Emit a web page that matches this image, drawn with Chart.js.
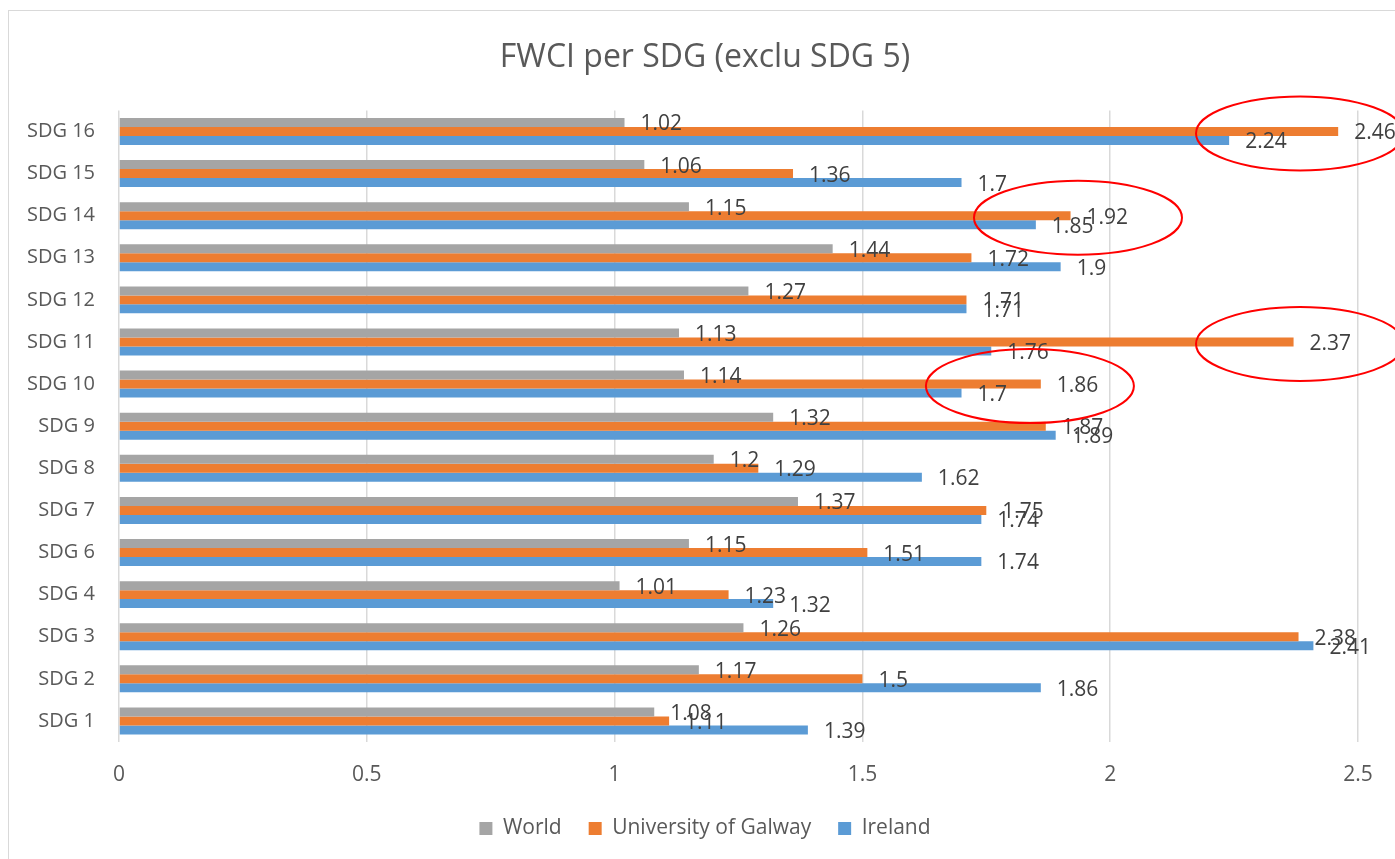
<!DOCTYPE html>
<html>
<head>
<meta charset="utf-8">
<title>FWCI per SDG</title>
<script src="https://cdn.jsdelivr.net/npm/chart.js@4.4.1/dist/chart.umd.min.js"></script>
<style>
  html, body { margin: 0; padding: 0; background: #fff; overflow: hidden; }
  #frame {
    position: absolute; left: 8px; top: 10px;
    width: 1392px; height: 860px;
    border-left: 1px solid #d9d9d9; border-top: 1px solid #d9d9d9;
  }
  canvas { display: block; }
</style>
</head>
<body>
<div id="frame"><canvas id="chart" width="1392" height="860"></canvas></div>
<script>
// chart data
const categories = ["SDG 16", "SDG 15", "SDG 14", "SDG 13", "SDG 12", "SDG 11", "SDG 10",
  "SDG 9", "SDG 8", "SDG 7", "SDG 6", "SDG 4", "SDG 3", "SDG 2", "SDG 1"];
const worldValues = [1.02, 1.06, 1.15, 1.44, 1.27, 1.13, 1.14, 1.32, 1.2, 1.37, 1.15, 1.01, 1.26, 1.17, 1.08];
const galwayValues = [2.46, 1.36, 1.92, 1.72, 1.71, 2.37, 1.86, 1.87, 1.29, 1.75, 1.51, 1.23, 2.38, 1.5, 1.11];
const irelandValues = [2.24, 1.7, 1.85, 1.9, 1.71, 1.76, 1.7, 1.89, 1.62, 1.74, 1.74, 1.32, 2.41, 1.86, 1.39];
const xTickValues = [0, 0.5, 1, 1.5, 2, 2.5];

// red rings drawn over the chart (category + x value of the ring centre)
const ringCategories = ["SDG 16", "SDG 14", "SDG 11", "SDG 10"];
const ringCentres = [2.383, 1.935, 2.383, 1.838];

const textFont = "'Open Sans', 'DejaVu Sans', sans-serif";

// value labels at the end of each bar
const barLabels = {
  id: "barLabels",
  afterDatasetsDraw(chart) {
    const ctx = chart.ctx;
    ctx.save();
    ctx.font = "21px " + textFont;
    ctx.fillStyle = "#404040";
    ctx.textAlign = "left";
    ctx.textBaseline = "middle";
    chart.data.datasets.forEach((ds, i) => {
      chart.getDatasetMeta(i).data.forEach((bar, j) => {
        ctx.fillText(String(ds.data[j]), bar.x + 16, bar.y + 2);
      });
    });
    ctx.restore();
  }
};

// hand drawn style ellipses
const rings = {
  id: "rings",
  afterDraw(chart) {
    const ctx = chart.ctx;
    const xs = chart.scales.x;
    const ys = chart.scales.y;
    ctx.save();
    ctx.strokeStyle = "#ff0000";
    ctx.lineWidth = 2;
    ringCategories.forEach((cat, i) => {
      const cx = xs.getPixelForValue(ringCentres[i]);
      const cy = ys.getPixelForValue(categories.indexOf(cat)) + 2;
      ctx.beginPath();
      ctx.ellipse(cx, cy, 104, 37, 0, 0, Math.PI * 2);
      ctx.stroke();
    });
    ctx.restore();
  }
};

new Chart(document.getElementById("chart"), {
  type: "bar",
  data: {
    labels: categories,
    datasets: [
      { label: "World", data: worldValues, backgroundColor: "#a5a5a5" },
      { label: "University of Galway", data: galwayValues, backgroundColor: "#ed7d31" },
      { label: "Ireland", data: irelandValues, backgroundColor: "#5b9bd5" }
    ]
  },
  options: {
    indexAxis: "y",
    responsive: false,
    animation: false,
    events: [],
    datasets: {
      bar: { categoryPercentage: 0.64, barPercentage: 1.0 }
    },
    layout: { padding: { left: 0, right: 0, top: 0, bottom: 22 } },
    scales: {
      x: {
        min: 0,
        max: 2.5,
        afterBuildTicks: (scale) => { scale.ticks = xTickValues.map(v => ({ value: v })); },
        afterFit: (scale) => { scale.height = 49; },
        grid: { color: "#d9d9d9", lineWidth: 1.5, drawTicks: false },
        border: { display: false },
        ticks: {
          color: "#595959",
          font: { family: textFont, size: 21 },
          padding: 20,
          maxRotation: 0,
          callback: (v) => String(v)
        }
      },
      y: {
        afterFit: (scale) => { scale.width = 110; },
        grid: { display: false, drawTicks: false },
        border: { display: false },
        ticks: { color: "#595959", font: { family: textFont, size: 20 }, padding: 24 }
      },
      // empty axis that only keeps room on the right of the plot
      yRight: {
        type: "category",
        position: "right",
        afterFit: (scale) => { scale.width = 43; },
        grid: { display: false, drawTicks: false },
        border: { display: false },
        ticks: { display: false }
      }
    },
    plugins: {
      title: {
        display: true,
        text: "FWCI per SDG (exclu SDG 5)",
        color: "#595959",
        font: { family: textFont, size: 32, weight: "normal" },
        padding: { top: 28, bottom: 33 }
      },
      legend: {
        position: "bottom",
        labels: {
          color: "#595959",
          font: { family: textFont, size: 21 },
          boxWidth: 13,
          boxHeight: 13,
          padding: 27
        }
      },
      tooltip: { enabled: false }
    }
  },
  plugins: [barLabels, rings]
});
</script>
</body>
</html>
